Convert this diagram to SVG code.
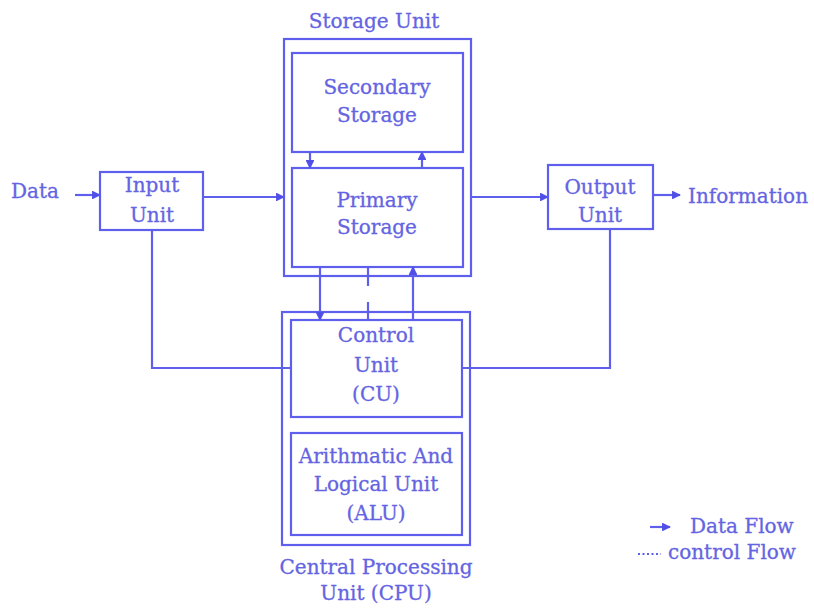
<svg xmlns="http://www.w3.org/2000/svg" width="814" height="608" viewBox="0 0 814 608">
<style>
.box{fill:none;stroke:#5f5fee;stroke-width:2.2}
.ln{fill:none;stroke:#5f5fee;stroke-width:2.2}
.t{font-family:"DejaVu Serif","Liberation Serif",serif;font-size:20px;fill:#6464e2;text-anchor:middle;stroke:#6464e2;stroke-width:0.3}
.ts{text-anchor:start}
</style>
<defs>
<marker id="ah" viewBox="0 0 10 10" refX="9" refY="5" markerWidth="4" markerHeight="4" orient="auto" markerUnits="strokeWidth">
<path d="M0,0 L10,5 L0,10 Z" fill="#5050e8"/>
</marker>
</defs>
<rect width="814" height="608" fill="#ffffff"/>

<g id="storage-unit">
<rect class="box" x="284" y="39" width="187" height="237"/>
<text class="t" x="374" y="28">Storage Unit</text>
</g>
<g id="secondary-storage">
<rect class="box" x="292" y="53" width="171" height="99"/>
<text class="t" x="377" y="94">Secondary</text>
<text class="t" x="377" y="122">Storage</text>
</g>
<g id="primary-storage">
<rect class="box" x="292" y="168" width="171" height="99"/>
<text class="t" x="377" y="207">Primary</text>
<text class="t" x="377" y="234">Storage</text>
</g>
<g id="input-unit">
<rect class="box" x="100" y="172" width="103" height="58"/>
<text class="t" x="152" y="192">Input</text>
<text class="t" x="152" y="222">Unit</text>
</g>
<g id="output-unit">
<rect class="box" x="548" y="165" width="105" height="64"/>
<text class="t" x="600" y="194">Output</text>
<text class="t" x="600" y="222">Unit</text>
</g>
<g id="cpu">
<rect class="box" x="282" y="312" width="188" height="233"/>
<text class="t" x="376" y="574">Central Processing</text>
<text class="t" x="376" y="600">Unit (CPU)</text>
</g>
<g id="control-unit">
<rect class="box" x="291" y="320" width="171" height="97"/>
<text class="t" x="376" y="342">Control</text>
<text class="t" x="376" y="372">Unit</text>
<text class="t" x="376" y="401">(CU)</text>
</g>
<g id="alu">
<rect class="box" x="291" y="433" width="171" height="102"/>
<text class="t" x="376" y="463">Arithmatic And</text>
<text class="t" x="376" y="491">Logical Unit</text>
<text class="t" x="376" y="520">(ALU)</text>
</g>
<g id="labels">
<text class="t ts" x="11" y="198">Data</text>
<text class="t ts" x="688" y="203">Information</text>
<text class="t ts" x="690" y="533">Data Flow</text>
<text class="t ts" x="668" y="559">control Flow</text>
</g>

<g id="connectors">
<line class="ln" x1="75" y1="195" x2="100" y2="195" marker-end="url(#ah)"/>
<line class="ln" x1="203" y1="197" x2="284" y2="197" marker-end="url(#ah)"/>
<line class="ln" x1="471" y1="197" x2="548" y2="197" marker-end="url(#ah)"/>
<line class="ln" x1="653" y1="195" x2="680" y2="195" marker-end="url(#ah)"/>
<line class="ln" x1="310" y1="152" x2="310" y2="168" marker-end="url(#ah)"/>
<line class="ln" x1="422" y1="168" x2="422" y2="152" marker-end="url(#ah)"/>
<line class="ln" x1="320" y1="267" x2="320" y2="320" marker-end="url(#ah)"/>
<line class="ln" x1="413" y1="320" x2="413" y2="267" marker-end="url(#ah)"/>
<line class="ln" x1="368" y1="267" x2="368" y2="286"/>
<line class="ln" x1="368" y1="302" x2="368" y2="320"/>
<polyline class="ln" points="152,230 152,368 291,368"/>
<polyline class="ln" points="610,229 610,368 462,368"/>
<line class="ln" x1="650" y1="527" x2="670" y2="527" marker-end="url(#ah)"/>
<line class="ln" x1="638" y1="554" x2="661" y2="554" stroke-dasharray="2,2.5"/>
</g>
</svg>
